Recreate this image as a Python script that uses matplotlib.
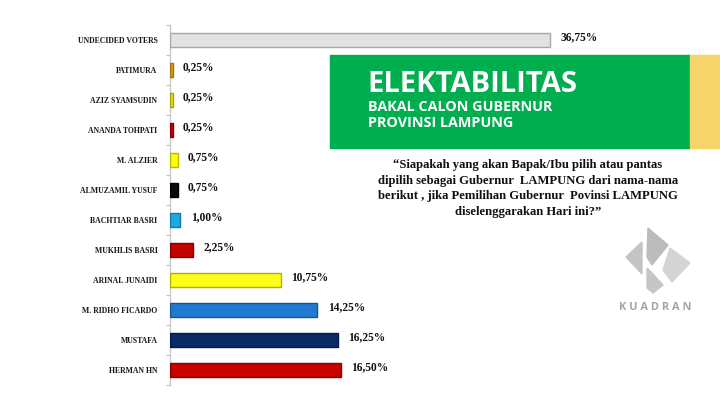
import matplotlib
matplotlib.use("Agg")
import matplotlib.pyplot as plt
from matplotlib.patches import Rectangle, Polygon

categories = ["UNDECIDED VOTERS", "PATIMURA", "AZIZ SYAMSUDIN", "ANANDA TOHPATI",
              "M. ALZIER", "ALMUZAMIL YUSUF", "BACHTIAR BASRI", "MUKHLIS BASRI",
              "ARINAL JUNAIDI", "M. RIDHO FICARDO", "MUSTAFA", "HERMAN HN"]
values = [36.75, 0.25, 0.25, 0.25, 0.75, 0.75, 1.00, 2.25, 10.75, 14.25, 16.25, 16.50]
labels = ["36,75%", "0,25%", "0,25%", "0,25%", "0,75%", "0,75%", "1,00%", "2,25%",
          "10,75%", "14,25%", "16,25%", "16,50%"]
colors = ["#e2e2e2", "#d9a21b", "#e6e21a", "#c00000", "#ffff00", "#0a0a0a",
          "#20a8e6", "#c40000", "#ffff1a", "#1f7ad0", "#0c2a66", "#c80000"]
edges = ["#a8a8a8", "#a07410", "#a8a400", "#800000", "#b8b800", "#000000",
         "#1278a8", "#800000", "#b0b000", "#145592", "#061a45", "#880000"]

title = "ELEKTABILITAS"
subtitle = ["BAKAL CALON GUBERNUR", "PROVINSI LAMPUNG"]
question = ["\u201cSiapakah yang akan Bapak/Ibu pilih atau pantas",
            "dipilih sebagai Gubernur  LAMPUNG dari nama-nama",
            "berikut , jika Pemilihan Gubernur  Povinsi LAMPUNG",
            "diselenggarakan Hari ini?\u201d"]

W, H = 720, 405
fig = plt.figure(figsize=(7.2, 4.05), dpi=100)
fig.patch.set_facecolor("white")

def fx(px):
    return px / W

def fy(py):
    return 1 - py / H

# chart axes: x from 170 px, y from 25 to 385 px
scale = 10.34  # px per percent
ax_left, ax_right = 170, 720
ax = fig.add_axes([fx(ax_left), fy(385), fx(ax_right - ax_left), (385 - 25) / H])
ax.set_xlim(0, (ax_right - ax_left) / scale)
ax.set_ylim(len(categories) - 0.5, -0.5)
ypos = list(range(len(categories)))
ax.barh(ypos, values, height=0.45, color=colors, edgecolor=edges, linewidth=1.0, zorder=3)
for y, v, lab in zip(ypos, values, labels):
    ax.text(v + 1.0, y - 0.1, lab, ha="left", va="center", fontsize=8.3,
            fontweight="bold", family="Liberation Serif", color="#111111", zorder=4)
ax.set_yticks(ypos)
ax.set_yticklabels(categories, fontsize=5.6, fontweight="bold", family="Liberation Serif",
                   color="#1a1a1a")
ax.set_yticks([i + 0.5 for i in range(-1, len(categories))], minor=True)
ax.tick_params(axis="y", which="major", length=0, pad=9)
ax.tick_params(axis="y", which="minor", length=3, color="#c0c0c0", width=0.8)
ax.set_xticks([])
for s in ["top", "right", "bottom"]:
    ax.spines[s].set_visible(False)
ax.spines["left"].set_color("#c8c8c8")
ax.spines["left"].set_linewidth(1.0)
ax.set_facecolor("none")

# title banner
fig.patches.append(Rectangle((fx(330), fy(148)), fx(360), (148 - 55) / H,
                             transform=fig.transFigure, color="#00ad4f", zorder=1))
fig.patches.append(Rectangle((fx(690), fy(148)), fx(30), (148 - 55) / H,
                             transform=fig.transFigure, color="#f7d46a", zorder=1))
fig.text(fx(367), fy(84), title, ha="left", va="center", fontsize=21,
         fontweight="bold", family="Open Sans", color="white", zorder=5)
fig.text(fx(368), fy(107), subtitle[0], ha="left", va="center", fontsize=10.4,
         fontweight="bold", family="Open Sans", color="white", zorder=5)
fig.text(fx(368), fy(123), subtitle[1], ha="left", va="center", fontsize=10.4,
         fontweight="bold", family="Open Sans", color="white", zorder=5)

# question
for i, line in enumerate(question):
    fig.text(fx(528), fy(165 + 15.5 * i), line, ha="center", va="center", fontsize=9.1,
             fontweight="bold", family="Liberation Serif", color="#111111")

# logo
logo_parts = [
    ([(626, 257), (642, 242), (642, 274)], "#c4c4c4"),
    ([(648, 228), (668, 245), (652, 265), (647, 257)], "#bcbcbc"),
    ([(670, 248), (690, 263), (672, 282), (663, 270)], "#d4d4d4"),
    ([(647, 268), (652, 273), (663, 285), (653, 293), (647, 288)], "#c6c6c6"),
]
for pts, c in logo_parts:
    fig.patches.append(Polygon([(fx(x), fy(y)) for x, y in pts], closed=True,
                               transform=fig.transFigure, color=c, zorder=1))
fig.text(fx(655), fy(307), "K U A D R A N", ha="center", va="center", fontsize=7.9,
         fontweight="bold", family="Open Sans", color="#a4a4a4")

fig.savefig("out.png", dpi=100)
